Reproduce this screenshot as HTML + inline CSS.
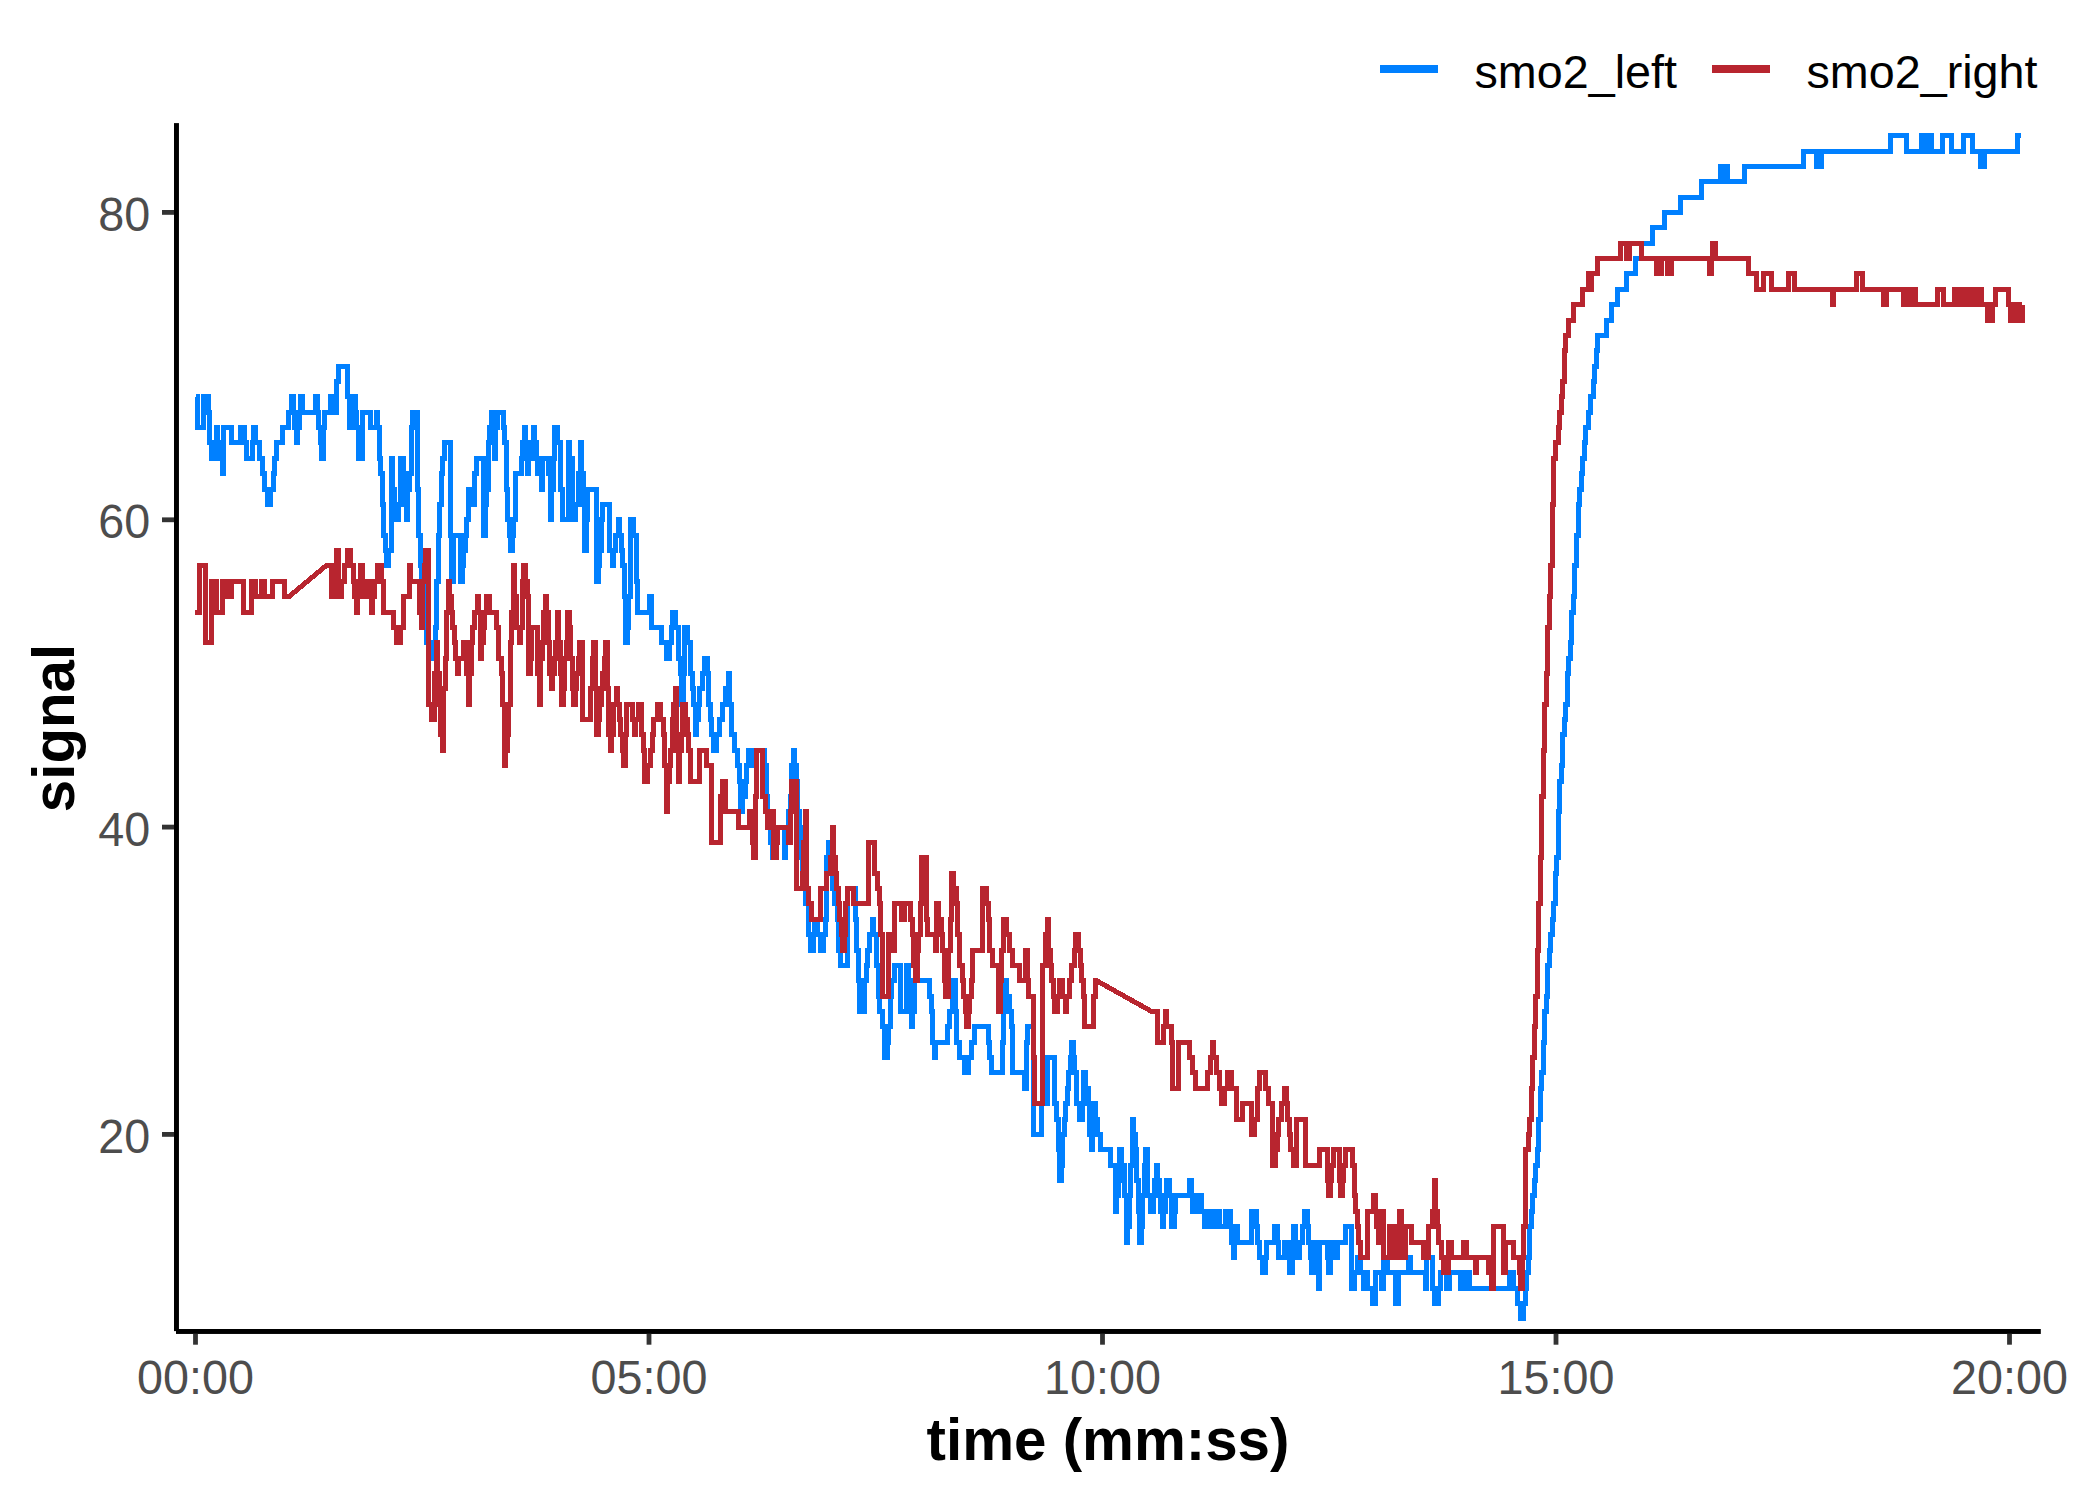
<!DOCTYPE html>
<html><head><meta charset="utf-8"><style>
html,body{margin:0;padding:0;background:#fff;width:2100px;height:1500px;overflow:hidden}
svg{display:block}
</style></head><body>
<svg width="2100" height="1500" viewBox="0 0 2100 1500">
<rect width="2100" height="1500" fill="#fff"/>
<path d="M196.3,396.8 L197.8,396.8 L197.8,427.6 L202.3,427.6 L203.9,427.6 L203.9,396.8 L206.9,396.8 L208.4,396.8 L208.4,412.2 L209.9,412.2 L209.9,442.9 L211.4,442.9 L211.4,458.3 L214.4,458.3 L216.0,458.3 L216.0,427.6 L217.5,427.6 L217.5,442.9 L219.0,442.9 L220.5,442.9 L220.5,458.3 L222.0,458.3 L222.0,473.7 L223.5,473.7 L223.5,427.6 L229.6,427.6 L231.1,427.6 L231.1,442.9 L238.6,442.9 L240.1,442.9 L240.1,427.6 L243.2,427.6 L244.7,427.6 L244.7,442.9 L246.2,442.9 L246.2,458.3 L250.7,458.3 L252.2,458.3 L252.2,442.9 L253.7,442.9 L253.7,427.6 L255.3,427.6 L255.3,442.9 L258.3,442.9 L259.8,442.9 L259.8,458.3 L261.3,458.3 L262.8,458.3 L262.8,473.7 L264.3,473.7 L264.3,489.0 L265.8,489.0 L267.3,489.0 L267.3,504.4 L268.9,504.4 L270.4,504.4 L270.4,489.0 L271.9,489.0 L273.4,489.0 L273.4,473.7 L274.9,473.7 L274.9,458.3 L276.4,458.3 L276.4,442.9 L281.0,442.9 L282.5,442.9 L282.5,427.6 L287.0,427.6 L288.5,427.6 L288.5,412.2 L290.0,412.2 L291.5,412.2 L291.5,396.8 L293.0,396.8 L293.0,412.2 L294.6,412.2 L294.6,427.6 L296.1,427.6 L296.1,442.9 L297.6,442.9 L297.6,427.6 L299.1,427.6 L299.1,412.2 L300.6,412.2 L300.6,396.8 L302.1,396.8 L302.1,412.2 L314.2,412.2 L315.7,412.2 L315.7,396.8 L317.2,396.8 L317.2,412.2 L318.7,412.2 L318.7,427.6 L320.3,427.6 L320.3,442.9 L321.8,442.9 L321.8,458.3 L323.3,458.3 L323.3,427.6 L324.8,427.6 L324.8,412.2 L329.3,412.2 L330.8,412.2 L330.8,396.8 L332.4,396.8 L333.9,396.8 L333.9,412.2 L335.4,412.2 L336.9,412.2 L336.9,381.5 L338.4,381.5 L338.4,366.1 L346.0,366.1 L347.5,366.1 L347.5,396.8 L349.0,396.8 L349.0,427.6 L352.0,427.6 L353.5,427.6 L353.5,396.8 L355.0,396.8 L355.0,412.2 L356.5,412.2 L356.5,427.6 L358.0,427.6 L358.0,458.3 L361.1,458.3 L362.6,458.3 L362.6,412.2 L368.6,412.2 L370.1,412.2 L370.1,427.6 L374.7,427.6 L376.2,427.6 L376.2,412.2 L377.7,412.2 L377.7,427.6 L379.2,427.6 L379.2,458.3 L380.7,458.3 L380.7,473.7 L382.2,473.7 L382.2,504.4 L383.7,504.4 L383.7,535.1 L385.3,535.1 L385.3,550.5 L386.8,550.5 L386.8,565.9 L388.3,565.9 L388.3,550.5 L389.8,550.5 L391.3,550.5 L391.3,458.3 L392.8,458.3 L392.8,489.0 L394.3,489.0 L394.3,504.4 L395.8,504.4 L395.8,519.8 L397.4,519.8 L398.9,519.8 L398.9,504.4 L400.4,504.4 L400.4,458.3 L401.9,458.3 L403.4,458.3 L403.4,473.7 L404.9,473.7 L404.9,504.4 L406.4,504.4 L406.4,519.8 L407.9,519.8 L407.9,489.0 L409.4,489.0 L409.4,473.7 L411.0,473.7 L411.0,427.6 L412.5,427.6 L412.5,412.2 L415.5,412.2 L417.0,412.2 L417.0,489.0 L418.5,489.0 L418.5,535.1 L420.0,535.1 L420.0,565.9 L421.5,565.9 L421.5,581.2 L423.1,581.2 L423.1,596.6 L424.6,596.6 L424.6,627.3 L426.1,627.3 L426.1,642.7 L429.1,642.7 L430.6,642.7 L430.6,658.1 L433.6,658.1 L435.1,658.1 L435.1,627.3 L436.7,627.3 L436.7,581.2 L438.2,581.2 L438.2,535.1 L439.7,535.1 L439.7,504.4 L441.2,504.4 L441.2,473.7 L442.7,473.7 L442.7,458.3 L444.2,458.3 L444.2,442.9 L448.7,442.9 L450.3,442.9 L450.3,535.1 L451.8,535.1 L451.8,581.2 L453.3,581.2 L453.3,535.1 L459.3,535.1 L460.8,535.1 L460.8,581.2 L462.4,581.2 L462.4,565.9 L463.9,565.9 L463.9,550.5 L465.4,550.5 L465.4,535.1 L466.9,535.1 L466.9,519.8 L468.4,519.8 L468.4,489.0 L469.9,489.0 L471.4,489.0 L471.4,504.4 L472.9,504.4 L474.4,504.4 L474.4,473.7 L476.0,473.7 L476.0,458.3 L482.0,458.3 L483.5,458.3 L483.5,535.1 L485.0,535.1 L485.0,504.4 L486.5,504.4 L486.5,489.0 L488.1,489.0 L488.1,442.9 L489.6,442.9 L489.6,427.6 L491.1,427.6 L491.1,412.2 L492.6,412.2 L492.6,442.9 L494.1,442.9 L494.1,458.3 L495.6,458.3 L495.6,427.6 L497.1,427.6 L497.1,412.2 L501.7,412.2 L503.2,412.2 L503.2,427.6 L504.7,427.6 L504.7,442.9 L506.2,442.9 L506.2,489.0 L507.7,489.0 L507.7,519.8 L509.2,519.8 L509.2,535.1 L510.7,535.1 L510.7,550.5 L512.2,550.5 L512.2,535.1 L513.8,535.1 L513.8,519.8 L515.3,519.8 L515.3,473.7 L519.8,473.7 L521.3,473.7 L521.3,458.3 L522.8,458.3 L522.8,442.9 L524.3,442.9 L524.3,427.6 L525.8,427.6 L525.8,442.9 L527.4,442.9 L527.4,473.7 L528.9,473.7 L528.9,458.3 L530.4,458.3 L531.9,458.3 L531.9,442.9 L533.4,442.9 L533.4,427.6 L534.9,427.6 L534.9,442.9 L536.4,442.9 L536.4,458.3 L537.9,458.3 L537.9,473.7 L539.4,473.7 L541.0,473.7 L541.0,489.0 L542.5,489.0 L542.5,458.3 L547.0,458.3 L548.5,458.3 L548.5,473.7 L550.0,473.7 L550.0,519.8 L551.5,519.8 L551.5,489.0 L553.1,489.0 L553.1,458.3 L554.6,458.3 L554.6,427.6 L556.1,427.6 L557.6,427.6 L557.6,442.9 L559.1,442.9 L560.6,442.9 L560.6,489.0 L562.1,489.0 L562.1,519.8 L566.7,519.8 L568.2,519.8 L568.2,442.9 L569.7,442.9 L569.7,458.3 L571.2,458.3 L572.7,458.3 L572.7,519.8 L574.2,519.8 L575.7,519.8 L575.7,504.4 L577.2,504.4 L578.8,504.4 L578.8,473.7 L580.3,473.7 L580.3,442.9 L581.8,442.9 L581.8,473.7 L583.3,473.7 L583.3,504.4 L584.8,504.4 L584.8,550.5 L586.3,550.5 L586.3,519.8 L587.8,519.8 L587.8,489.0 L595.4,489.0 L596.9,489.0 L596.9,581.2 L598.4,581.2 L598.4,565.9 L599.9,565.9 L599.9,550.5 L601.4,550.5 L601.4,519.8 L602.9,519.8 L602.9,504.4 L607.5,504.4 L609.0,504.4 L609.0,550.5 L610.5,550.5 L612.0,550.5 L612.0,565.9 L613.5,565.9 L613.5,550.5 L615.0,550.5 L615.0,535.1 L616.5,535.1 L618.1,535.1 L618.1,519.8 L619.6,519.8 L619.6,535.1 L621.1,535.1 L621.1,550.5 L622.6,550.5 L622.6,565.9 L624.1,565.9 L624.1,596.6 L625.6,596.6 L625.6,642.7 L627.1,642.7 L627.1,627.3 L628.6,627.3 L628.6,596.6 L630.1,596.6 L630.1,519.8 L631.7,519.8 L633.2,519.8 L633.2,535.1 L634.7,535.1 L636.2,535.1 L636.2,581.2 L637.7,581.2 L637.7,612.0 L648.3,612.0 L649.8,612.0 L649.8,596.6 L651.3,596.6 L651.3,627.3 L660.4,627.3 L661.9,627.3 L661.9,642.7 L664.9,642.7 L666.4,642.7 L666.4,658.1 L667.9,658.1 L669.5,658.1 L669.5,642.7 L671.0,642.7 L671.0,627.3 L672.5,627.3 L672.5,612.0 L674.0,612.0 L675.5,612.0 L675.5,627.3 L677.0,627.3 L678.5,627.3 L678.5,658.1 L680.0,658.1 L680.0,673.4 L681.5,673.4 L681.5,704.2 L683.1,704.2 L683.1,673.4 L684.6,673.4 L684.6,627.3 L686.1,627.3 L687.6,627.3 L687.6,642.7 L689.1,642.7 L690.6,642.7 L690.6,673.4 L692.1,673.4 L692.1,688.8 L693.6,688.8 L693.6,704.2 L695.2,704.2 L695.2,734.9 L696.7,734.9 L696.7,719.5 L698.2,719.5 L698.2,704.2 L699.7,704.2 L699.7,688.8 L701.2,688.8 L702.7,688.8 L702.7,673.4 L704.2,673.4 L704.2,658.1 L705.7,658.1 L707.2,658.1 L707.2,673.4 L708.8,673.4 L708.8,704.2 L710.3,704.2 L710.3,719.5 L711.8,719.5 L711.8,734.9 L713.3,734.9 L713.3,750.3 L714.8,750.3 L716.3,750.3 L716.3,734.9 L717.8,734.9 L719.3,734.9 L719.3,719.5 L720.8,719.5 L722.4,719.5 L722.4,704.2 L723.9,704.2 L725.4,704.2 L725.4,688.8 L726.9,688.8 L728.4,688.8 L728.4,673.4 L729.9,673.4 L729.9,704.2 L731.4,704.2 L731.4,734.9 L732.9,734.9 L734.5,734.9 L734.5,750.3 L736.0,750.3 L737.5,750.3 L737.5,765.6 L739.0,765.6 L739.0,781.0 L740.5,781.0 L740.5,811.7 L742.0,811.7 L742.0,796.4 L743.5,796.4 L745.0,796.4 L745.0,781.0 L746.5,781.0 L746.5,765.6 L748.1,765.6 L748.1,750.3 L749.6,750.3 L751.1,750.3 L751.1,765.6 L754.1,765.6 L755.6,765.6 L755.6,750.3 L763.2,750.3 L764.7,750.3 L764.7,765.6 L766.2,765.6 L766.2,796.4 L767.7,796.4 L767.7,811.7 L769.2,811.7 L769.2,827.1 L770.7,827.1 L770.7,842.5 L772.2,842.5 L772.2,857.8 L773.8,857.8 L773.8,842.5 L775.3,842.5 L776.8,842.5 L776.8,827.1 L782.8,827.1 L784.3,827.1 L784.3,857.8 L785.9,857.8 L785.9,842.5 L787.4,842.5 L787.4,827.1 L788.9,827.1 L788.9,811.7 L790.4,811.7 L790.4,796.4 L791.9,796.4 L791.9,765.6 L793.4,765.6 L793.4,750.3 L794.9,750.3 L794.9,765.6 L796.4,765.6 L796.4,781.0 L797.9,781.0 L797.9,811.7 L799.5,811.7 L799.5,827.1 L801.0,827.1 L801.0,857.8 L802.5,857.8 L802.5,873.2 L804.0,873.2 L804.0,888.6 L805.5,888.6 L805.5,903.9 L807.0,903.9 L808.5,903.9 L808.5,934.7 L810.0,934.7 L810.0,950.0 L811.5,950.0 L813.1,950.0 L813.1,934.7 L814.6,934.7 L814.6,919.3 L816.1,919.3 L817.6,919.3 L817.6,934.7 L819.1,934.7 L820.6,934.7 L820.6,950.0 L822.1,950.0 L823.6,950.0 L823.6,934.7 L825.2,934.7 L825.2,919.3 L826.7,919.3 L826.7,857.8 L828.2,857.8 L828.2,842.5 L829.7,842.5 L829.7,857.8 L831.2,857.8 L831.2,873.2 L832.7,873.2 L832.7,888.6 L834.2,888.6 L834.2,903.9 L835.7,903.9 L837.2,903.9 L837.2,919.3 L838.8,919.3 L838.8,950.0 L840.3,950.0 L840.3,965.4 L846.3,965.4 L847.8,965.4 L847.8,888.6 L853.9,888.6 L855.4,888.6 L855.4,919.3 L856.9,919.3 L856.9,950.0 L858.4,950.0 L858.4,980.8 L859.9,980.8 L859.9,1011.5 L862.9,1011.5 L864.5,1011.5 L864.5,980.8 L866.0,980.8 L866.0,965.4 L867.5,965.4 L867.5,950.0 L869.0,950.0 L869.0,934.7 L870.5,934.7 L872.0,934.7 L872.0,919.3 L873.5,919.3 L873.5,934.7 L875.0,934.7 L876.5,934.7 L876.5,965.4 L878.1,965.4 L878.1,996.1 L879.6,996.1 L879.6,1011.5 L881.1,1011.5 L882.6,1011.5 L882.6,1026.8 L884.1,1026.8 L884.1,1057.6 L885.6,1057.6 L887.1,1057.6 L887.1,1042.2 L888.6,1042.2 L888.6,1026.8 L890.2,1026.8 L890.2,996.1 L891.7,996.1 L891.7,980.8 L893.2,980.8 L894.7,980.8 L894.7,965.4 L899.2,965.4 L900.7,965.4 L900.7,1011.5 L905.3,1011.5 L906.8,1011.5 L906.8,965.4 L908.3,965.4 L908.3,980.8 L909.8,980.8 L909.8,996.1 L911.3,996.1 L911.3,1026.8 L912.8,1026.8 L912.8,1011.5 L914.3,1011.5 L914.3,980.8 L927.9,980.8 L929.5,980.8 L929.5,996.1 L931.0,996.1 L931.0,1011.5 L932.5,1011.5 L932.5,1042.2 L934.0,1042.2 L934.0,1057.6 L935.5,1057.6 L935.5,1042.2 L946.1,1042.2 L947.6,1042.2 L947.6,1026.8 L949.1,1026.8 L949.1,1011.5 L950.6,1011.5 L952.1,1011.5 L952.1,996.1 L953.6,996.1 L953.6,980.8 L955.2,980.8 L955.2,1011.5 L956.7,1011.5 L956.7,1042.2 L958.2,1042.2 L959.7,1042.2 L959.7,1057.6 L962.7,1057.6 L964.2,1057.6 L964.2,1072.9 L967.2,1072.9 L968.8,1072.9 L968.8,1057.6 L970.3,1057.6 L971.8,1057.6 L971.8,1042.2 L973.3,1042.2 L974.8,1042.2 L974.8,1026.8 L986.9,1026.8 L988.4,1026.8 L988.4,1042.2 L989.9,1042.2 L989.9,1057.6 L991.4,1057.6 L991.4,1072.9 L1000.5,1072.9 L1002.0,1072.9 L1002.0,1042.2 L1003.5,1042.2 L1003.5,1011.5 L1005.0,1011.5 L1005.0,980.8 L1006.6,980.8 L1006.6,996.1 L1008.1,996.1 L1009.6,996.1 L1009.6,1011.5 L1011.1,1011.5 L1011.1,1026.8 L1012.6,1026.8 L1012.6,1072.9 L1023.2,1072.9 L1024.7,1072.9 L1024.7,1088.3 L1026.2,1088.3 L1026.2,1042.2 L1027.7,1042.2 L1027.7,1026.8 L1032.3,1026.8 L1033.8,1026.8 L1033.8,1134.4 L1039.8,1134.4 L1041.3,1134.4 L1041.3,1103.7 L1045.9,1103.7 L1047.4,1103.7 L1047.4,1057.6 L1053.4,1057.6 L1054.9,1057.6 L1054.9,1103.7 L1056.4,1103.7 L1056.4,1119.0 L1058.0,1119.0 L1058.0,1149.8 L1059.5,1149.8 L1059.5,1180.5 L1061.0,1180.5 L1061.0,1165.1 L1062.5,1165.1 L1062.5,1134.4 L1064.0,1134.4 L1064.0,1119.0 L1065.5,1119.0 L1065.5,1103.7 L1067.0,1103.7 L1067.0,1088.3 L1068.5,1088.3 L1068.5,1072.9 L1070.0,1072.9 L1070.0,1057.6 L1071.6,1057.6 L1071.6,1042.2 L1073.1,1042.2 L1073.1,1057.6 L1074.6,1057.6 L1074.6,1072.9 L1076.1,1072.9 L1076.1,1103.7 L1077.6,1103.7 L1079.1,1103.7 L1079.1,1119.0 L1080.6,1119.0 L1082.1,1119.0 L1082.1,1103.7 L1083.6,1103.7 L1083.6,1072.9 L1085.2,1072.9 L1085.2,1088.3 L1086.7,1088.3 L1088.2,1088.3 L1088.2,1103.7 L1089.7,1103.7 L1089.7,1134.4 L1091.2,1134.4 L1091.2,1149.8 L1092.7,1149.8 L1092.7,1103.7 L1094.2,1103.7 L1095.7,1103.7 L1095.7,1119.0 L1097.3,1119.0 L1097.3,1134.4 L1098.8,1134.4 L1100.3,1134.4 L1100.3,1149.8 L1109.3,1149.8 L1110.9,1149.8 L1110.9,1165.1 L1113.9,1165.1 L1115.4,1165.1 L1115.4,1211.2 L1116.9,1211.2 L1116.9,1195.9 L1118.4,1195.9 L1118.4,1180.5 L1119.9,1180.5 L1119.9,1149.8 L1121.4,1149.8 L1121.4,1165.1 L1123.0,1165.1 L1124.5,1165.1 L1124.5,1195.9 L1126.0,1195.9 L1126.0,1242.0 L1127.5,1242.0 L1127.5,1226.6 L1129.0,1226.6 L1129.0,1195.9 L1130.5,1195.9 L1130.5,1165.1 L1132.0,1165.1 L1132.0,1119.0 L1133.5,1119.0 L1133.5,1134.4 L1135.0,1134.4 L1135.0,1149.8 L1136.6,1149.8 L1136.6,1180.5 L1138.1,1180.5 L1138.1,1211.2 L1139.6,1211.2 L1139.6,1242.0 L1141.1,1242.0 L1141.1,1226.6 L1142.6,1226.6 L1142.6,1195.9 L1144.1,1195.9 L1144.1,1165.1 L1145.6,1165.1 L1145.6,1149.8 L1147.1,1149.8 L1147.1,1195.9 L1148.7,1195.9 L1150.2,1195.9 L1150.2,1211.2 L1151.7,1211.2 L1153.2,1211.2 L1153.2,1195.9 L1154.7,1195.9 L1154.7,1180.5 L1156.2,1180.5 L1156.2,1165.1 L1157.7,1165.1 L1157.7,1180.5 L1159.2,1180.5 L1159.2,1195.9 L1160.7,1195.9 L1160.7,1211.2 L1162.3,1211.2 L1162.3,1226.6 L1163.8,1226.6 L1163.8,1211.2 L1165.3,1211.2 L1165.3,1195.9 L1166.8,1195.9 L1166.8,1180.5 L1168.3,1180.5 L1169.8,1180.5 L1169.8,1195.9 L1171.3,1195.9 L1171.3,1226.6 L1172.8,1226.6 L1174.3,1226.6 L1174.3,1211.2 L1175.9,1211.2 L1175.9,1195.9 L1188.0,1195.9 L1189.5,1195.9 L1189.5,1180.5 L1191.0,1180.5 L1191.0,1195.9 L1192.5,1195.9 L1192.5,1211.2 L1195.5,1211.2 L1197.0,1211.2 L1197.0,1195.9 L1200.0,1195.9 L1201.6,1195.9 L1201.6,1211.2 L1203.1,1211.2 L1204.6,1211.2 L1204.6,1226.6 L1206.1,1226.6 L1207.6,1226.6 L1207.6,1211.2 L1210.6,1211.2 L1212.1,1211.2 L1212.1,1226.6 L1213.7,1226.6 L1215.2,1226.6 L1215.2,1211.2 L1218.2,1211.2 L1219.7,1211.2 L1219.7,1226.6 L1224.2,1226.6 L1225.7,1226.6 L1225.7,1211.2 L1228.8,1211.2 L1230.3,1211.2 L1230.3,1226.6 L1231.8,1226.6 L1231.8,1242.0 L1233.3,1242.0 L1233.3,1257.3 L1234.8,1257.3 L1234.8,1242.0 L1236.3,1242.0 L1236.3,1226.6 L1237.8,1226.6 L1237.8,1242.0 L1249.9,1242.0 L1251.4,1242.0 L1251.4,1211.2 L1254.5,1211.2 L1256.0,1211.2 L1256.0,1226.6 L1257.5,1226.6 L1257.5,1242.0 L1259.0,1242.0 L1259.0,1257.3 L1260.5,1257.3 L1262.0,1257.3 L1262.0,1272.7 L1263.5,1272.7 L1265.0,1272.7 L1265.0,1257.3 L1266.6,1257.3 L1266.6,1242.0 L1272.6,1242.0 L1274.1,1242.0 L1274.1,1226.6 L1275.6,1226.6 L1277.1,1226.6 L1277.1,1242.0 L1278.7,1242.0 L1278.7,1257.3 L1283.2,1257.3 L1284.7,1257.3 L1284.7,1242.0 L1286.2,1242.0 L1287.7,1242.0 L1287.7,1257.3 L1289.2,1257.3 L1289.2,1272.7 L1290.7,1272.7 L1292.3,1272.7 L1292.3,1242.0 L1293.8,1242.0 L1293.8,1226.6 L1295.3,1226.6 L1295.3,1242.0 L1296.8,1242.0 L1296.8,1257.3 L1298.3,1257.3 L1299.8,1257.3 L1299.8,1242.0 L1301.3,1242.0 L1302.8,1242.0 L1302.8,1226.6 L1304.4,1226.6 L1304.4,1211.2 L1305.9,1211.2 L1307.4,1211.2 L1307.4,1226.6 L1308.9,1226.6 L1308.9,1242.0 L1310.4,1242.0 L1310.4,1257.3 L1311.9,1257.3 L1311.9,1272.7 L1313.4,1272.7 L1313.4,1257.3 L1314.9,1257.3 L1314.9,1242.0 L1316.4,1242.0 L1316.4,1272.7 L1318.0,1272.7 L1318.0,1288.1 L1319.5,1288.1 L1319.5,1242.0 L1325.5,1242.0 L1327.0,1242.0 L1327.0,1257.3 L1328.5,1257.3 L1328.5,1272.7 L1330.0,1272.7 L1330.0,1242.0 L1331.6,1242.0 L1333.1,1242.0 L1333.1,1257.3 L1336.1,1257.3 L1337.6,1257.3 L1337.6,1242.0 L1343.7,1242.0 L1345.2,1242.0 L1345.2,1226.6 L1349.7,1226.6 L1351.2,1226.6 L1351.2,1288.1 L1352.7,1288.1 L1354.2,1288.1 L1354.2,1272.7 L1355.7,1272.7 L1357.3,1272.7 L1357.3,1257.3 L1358.8,1257.3 L1360.3,1257.3 L1360.3,1272.7 L1361.8,1272.7 L1363.3,1272.7 L1363.3,1288.1 L1364.8,1288.1 L1364.8,1272.7 L1366.3,1272.7 L1367.8,1272.7 L1367.8,1288.1 L1370.9,1288.1 L1372.4,1288.1 L1372.4,1303.4 L1373.9,1303.4 L1375.4,1303.4 L1375.4,1272.7 L1379.9,1272.7 L1381.4,1272.7 L1381.4,1288.1 L1383.0,1288.1 L1383.0,1257.3 L1386.0,1257.3 L1387.5,1257.3 L1387.5,1272.7 L1393.5,1272.7 L1395.1,1272.7 L1395.1,1303.4 L1396.6,1303.4 L1398.1,1303.4 L1398.1,1272.7 L1407.1,1272.7 L1408.7,1272.7 L1408.7,1257.3 L1410.2,1257.3 L1410.2,1272.7 L1423.8,1272.7 L1425.3,1272.7 L1425.3,1288.1 L1426.8,1288.1 L1426.8,1257.3 L1431.3,1257.3 L1432.8,1257.3 L1432.8,1288.1 L1434.4,1288.1 L1434.4,1303.4 L1437.4,1303.4 L1438.9,1303.4 L1438.9,1288.1 L1440.4,1288.1 L1440.4,1272.7 L1444.9,1272.7 L1446.4,1272.7 L1446.4,1288.1 L1448.0,1288.1 L1449.5,1288.1 L1449.5,1272.7 L1458.5,1272.7 L1460.1,1272.7 L1460.1,1288.1 L1463.1,1288.1 L1464.6,1288.1 L1464.6,1272.7 L1467.6,1272.7 L1469.1,1272.7 L1469.1,1288.1 L1508.4,1288.1 L1509.9,1288.1 L1509.9,1272.7 L1511.5,1272.7 L1513.0,1272.7 L1513.0,1288.1 L1516.0,1288.1 L1517.5,1288.1 L1517.5,1303.4 L1519.0,1303.4 L1520.5,1303.4 L1520.5,1318.8 L1522.0,1318.8 L1523.5,1318.8 L1523.5,1303.4 L1525.1,1303.4 L1525.1,1288.1 L1526.6,1288.1 L1526.6,1272.7 L1528.1,1272.7 L1528.1,1257.3 L1529.6,1257.3 L1529.6,1226.6 L1531.1,1226.6 L1531.1,1211.2 L1532.6,1211.2 L1532.6,1195.9 L1534.1,1195.9 L1534.1,1180.5 L1535.6,1180.5 L1535.6,1165.1 L1537.1,1165.1 L1537.1,1149.8 L1538.7,1149.8 L1538.7,1119.0 L1540.2,1119.0 L1540.2,1088.3 L1541.7,1088.3 L1541.7,1072.9 L1543.2,1072.9 L1543.2,1042.2 L1544.7,1042.2 L1544.7,1011.5 L1546.2,1011.5 L1546.2,996.1 L1547.7,996.1 L1547.7,965.4 L1549.2,965.4 L1549.2,950.0 L1550.8,950.0 L1550.8,934.7 L1552.3,934.7 L1552.3,919.3 L1553.8,919.3 L1553.8,903.9 L1555.3,903.9 L1555.3,873.2 L1556.8,873.2 L1556.8,857.8 L1558.3,857.8 L1558.3,811.7 L1559.8,811.7 L1559.8,781.0 L1561.3,781.0 L1561.3,765.6 L1562.8,765.6 L1562.8,734.9 L1564.4,734.9 L1564.4,719.5 L1565.9,719.5 L1565.9,704.2 L1567.4,704.2 L1567.4,673.4 L1568.9,673.4 L1568.9,658.1 L1570.4,658.1 L1570.4,642.7 L1571.9,642.7 L1571.9,612.0 L1573.4,612.0 L1573.4,596.6 L1574.9,596.6 L1574.9,565.9 L1576.5,565.9 L1576.5,535.1 L1578.0,535.1 L1578.0,504.4 L1579.5,504.4 L1579.5,489.0 L1581.0,489.0 L1581.0,473.7 L1582.5,473.7 L1582.5,458.3 L1584.0,458.3 L1584.0,442.9 L1585.5,442.9 L1585.5,427.6 L1587.0,427.6 L1588.5,427.6 L1588.5,412.2 L1590.1,412.2 L1590.1,396.8 L1591.6,396.8 L1593.1,396.8 L1593.1,381.5 L1594.6,381.5 L1594.6,366.1 L1596.1,366.1 L1596.1,350.7 L1597.6,350.7 L1597.6,335.4 L1605.2,335.4 L1606.7,335.4 L1606.7,320.0 L1609.7,320.0 L1611.2,320.0 L1611.2,304.6 L1615.8,304.6 L1617.3,304.6 L1617.3,289.3 L1624.8,289.3 L1626.3,289.3 L1626.3,273.9 L1633.9,273.9 L1635.4,273.9 L1635.4,258.5 L1639.9,258.5 L1641.5,258.5 L1641.5,243.2 L1650.5,243.2 L1652.0,243.2 L1652.0,227.8 L1662.6,227.8 L1664.1,227.8 L1664.1,212.4 L1679.2,212.4 L1680.8,212.4 L1680.8,197.1 L1700.4,197.1 L1701.9,197.1 L1701.9,181.7 L1718.5,181.7 L1720.1,181.7 L1720.1,166.4 L1721.6,166.4 L1723.1,166.4 L1723.1,181.7 L1724.6,181.7 L1724.6,166.4 L1726.1,166.4 L1727.6,166.4 L1727.6,181.7 L1742.7,181.7 L1744.2,181.7 L1744.2,166.4 L1801.7,166.4 L1803.2,166.4 L1803.2,151.0 L1815.3,151.0 L1816.8,151.0 L1816.8,166.4 L1819.8,166.4 L1821.3,166.4 L1821.3,151.0 L1889.4,151.0 L1890.9,151.0 L1890.9,135.6 L1904.5,135.6 L1906.0,135.6 L1906.0,151.0 L1919.6,151.0 L1921.1,151.0 L1921.1,135.6 L1922.6,135.6 L1922.6,151.0 L1924.1,151.0 L1924.1,135.6 L1925.6,135.6 L1927.2,135.6 L1927.2,151.0 L1928.7,151.0 L1928.7,135.6 L1930.2,135.6 L1931.7,135.6 L1931.7,151.0 L1940.8,151.0 L1942.3,151.0 L1942.3,135.6 L1949.8,135.6 L1951.3,135.6 L1951.3,151.0 L1961.9,151.0 L1963.4,151.0 L1963.4,135.6 L1971.0,135.6 L1972.5,135.6 L1972.5,151.0 L1978.6,151.0 L1980.1,151.0 L1980.1,166.4 L1983.1,166.4 L1984.6,166.4 L1984.6,151.0 L2016.3,151.0 L2017.9,151.0 L2017.9,135.6 L2020.9,135.6" fill="none" stroke="#0080FF" stroke-width="5" stroke-linejoin="miter" stroke-linecap="butt" shape-rendering="crispEdges"/>
<path d="M195.3,612.0 L198.3,612.0 L199.8,612.0 L199.8,565.9 L204.4,565.9 L205.9,565.9 L205.9,642.7 L210.4,642.7 L211.9,642.7 L211.9,581.2 L215.0,581.2 L216.5,581.2 L216.5,612.0 L221.0,612.0 L222.5,612.0 L222.5,581.2 L225.5,581.2 L227.0,581.2 L227.0,596.6 L230.1,596.6 L231.6,596.6 L231.6,581.2 L242.2,581.2 L243.7,581.2 L243.7,612.0 L249.7,612.0 L251.2,612.0 L251.2,581.2 L254.3,581.2 L255.8,581.2 L255.8,596.6 L260.3,596.6 L261.8,596.6 L261.8,581.2 L263.3,581.2 L264.8,581.2 L264.8,596.6 L270.9,596.6 L272.4,596.6 L272.4,581.2 L283.0,581.2 L284.5,581.2 L284.5,596.6 L289.0,596.6 L325.9,565.9 L330.4,565.9 L331.9,565.9 L331.9,596.6 L333.5,596.6 L333.5,581.2 L335.0,581.2 L335.0,565.9 L336.5,565.9 L336.5,550.5 L338.0,550.5 L338.0,596.6 L339.5,596.6 L341.0,596.6 L341.0,581.2 L342.5,581.2 L344.0,581.2 L344.0,565.9 L345.6,565.9 L347.1,565.9 L347.1,550.5 L348.6,550.5 L350.1,550.5 L350.1,565.9 L351.6,565.9 L353.1,565.9 L353.1,581.2 L354.6,581.2 L354.6,596.6 L356.1,596.6 L356.1,612.0 L357.6,612.0 L357.6,596.6 L359.2,596.6 L359.2,581.2 L360.7,581.2 L360.7,565.9 L362.2,565.9 L362.2,581.2 L363.7,581.2 L363.7,596.6 L365.2,596.6 L366.7,596.6 L366.7,581.2 L368.2,581.2 L369.7,581.2 L369.7,596.6 L371.2,596.6 L371.2,612.0 L372.8,612.0 L372.8,596.6 L374.3,596.6 L374.3,581.2 L375.8,581.2 L377.3,581.2 L377.3,565.9 L380.3,565.9 L381.8,565.9 L381.8,581.2 L383.3,581.2 L383.3,612.0 L392.4,612.0 L393.9,612.0 L393.9,627.3 L395.4,627.3 L396.9,627.3 L396.9,642.7 L398.5,642.7 L400.0,642.7 L400.0,627.3 L401.5,627.3 L403.0,627.3 L403.0,596.6 L407.5,596.6 L409.0,596.6 L409.0,565.9 L410.6,565.9 L410.6,581.2 L418.1,581.2 L419.6,581.2 L419.6,612.0 L421.1,612.0 L421.1,627.3 L422.6,627.3 L422.6,581.2 L424.2,581.2 L424.2,565.9 L425.7,565.9 L425.7,550.5 L427.2,550.5 L428.7,550.5 L428.7,704.2 L430.2,704.2 L431.7,704.2 L431.7,719.5 L433.2,719.5 L434.7,719.5 L434.7,673.4 L436.3,673.4 L436.3,642.7 L437.8,642.7 L437.8,673.4 L439.3,673.4 L439.3,704.2 L440.8,704.2 L440.8,734.9 L442.3,734.9 L442.3,750.3 L443.8,750.3 L443.8,688.8 L445.3,688.8 L445.3,658.1 L446.8,658.1 L446.8,612.0 L448.3,612.0 L448.3,581.2 L449.9,581.2 L449.9,596.6 L451.4,596.6 L451.4,612.0 L452.9,612.0 L452.9,627.3 L454.4,627.3 L454.4,642.7 L455.9,642.7 L455.9,658.1 L457.4,658.1 L457.4,673.4 L458.9,673.4 L458.9,658.1 L461.9,658.1 L463.5,658.1 L463.5,642.7 L465.0,642.7 L466.5,642.7 L466.5,673.4 L468.0,673.4 L468.0,704.2 L469.5,704.2 L469.5,673.4 L471.0,673.4 L471.0,642.7 L472.5,642.7 L472.5,627.3 L474.0,627.3 L474.0,612.0 L475.6,612.0 L477.1,612.0 L477.1,596.6 L478.6,596.6 L478.6,612.0 L480.1,612.0 L480.1,658.1 L481.6,658.1 L481.6,642.7 L483.1,642.7 L483.1,627.3 L484.6,627.3 L484.6,612.0 L486.1,612.0 L486.1,596.6 L487.6,596.6 L489.2,596.6 L489.2,612.0 L495.2,612.0 L496.7,612.0 L496.7,627.3 L498.2,627.3 L498.2,658.1 L499.7,658.1 L501.3,658.1 L501.3,673.4 L502.8,673.4 L502.8,704.2 L504.3,704.2 L504.3,765.6 L505.8,765.6 L505.8,750.3 L507.3,750.3 L507.3,734.9 L508.8,734.9 L508.8,704.2 L510.3,704.2 L510.3,642.7 L511.8,642.7 L511.8,612.0 L513.3,612.0 L513.3,565.9 L514.9,565.9 L514.9,596.6 L516.4,596.6 L516.4,627.3 L517.9,627.3 L519.4,627.3 L519.4,642.7 L520.9,642.7 L520.9,627.3 L522.4,627.3 L522.4,581.2 L523.9,581.2 L523.9,565.9 L525.4,565.9 L525.4,581.2 L527.0,581.2 L527.0,596.6 L528.5,596.6 L528.5,673.4 L530.0,673.4 L530.0,658.1 L531.5,658.1 L531.5,627.3 L536.0,627.3 L537.5,627.3 L537.5,673.4 L539.0,673.4 L539.0,704.2 L540.6,704.2 L540.6,658.1 L542.1,658.1 L542.1,642.7 L543.6,642.7 L543.6,612.0 L545.1,612.0 L545.1,596.6 L546.6,596.6 L546.6,612.0 L548.1,612.0 L548.1,642.7 L549.6,642.7 L549.6,673.4 L551.1,673.4 L551.1,688.8 L552.6,688.8 L552.6,673.4 L554.2,673.4 L554.2,658.1 L555.7,658.1 L555.7,642.7 L557.2,642.7 L557.2,612.0 L558.7,612.0 L558.7,642.7 L560.2,642.7 L560.2,673.4 L561.7,673.4 L561.7,704.2 L563.2,704.2 L563.2,688.8 L564.7,688.8 L564.7,658.1 L566.3,658.1 L566.3,642.7 L567.8,642.7 L567.8,612.0 L569.3,612.0 L569.3,627.3 L570.8,627.3 L570.8,658.1 L572.3,658.1 L572.3,688.8 L573.8,688.8 L573.8,704.2 L575.3,704.2 L575.3,688.8 L576.8,688.8 L576.8,673.4 L578.3,673.4 L578.3,658.1 L579.9,658.1 L579.9,642.7 L581.4,642.7 L582.9,642.7 L582.9,719.5 L588.9,719.5 L590.4,719.5 L590.4,688.8 L592.0,688.8 L592.0,658.1 L593.5,658.1 L593.5,642.7 L595.0,642.7 L595.0,688.8 L596.5,688.8 L596.5,734.9 L598.0,734.9 L598.0,719.5 L599.5,719.5 L599.5,704.2 L601.0,704.2 L601.0,688.8 L602.5,688.8 L602.5,673.4 L604.0,673.4 L604.0,658.1 L605.6,658.1 L605.6,642.7 L607.1,642.7 L607.1,688.8 L608.6,688.8 L608.6,734.9 L610.1,734.9 L610.1,750.3 L611.6,750.3 L611.6,734.9 L613.1,734.9 L613.1,704.2 L614.6,704.2 L616.1,704.2 L616.1,688.8 L617.7,688.8 L617.7,704.2 L619.2,704.2 L619.2,719.5 L620.7,719.5 L620.7,734.9 L622.2,734.9 L622.2,750.3 L623.7,750.3 L623.7,765.6 L625.2,765.6 L625.2,734.9 L626.7,734.9 L626.7,704.2 L631.3,704.2 L632.8,704.2 L632.8,719.5 L634.3,719.5 L634.3,734.9 L635.8,734.9 L635.8,719.5 L637.3,719.5 L638.8,719.5 L638.8,704.2 L640.3,704.2 L641.8,704.2 L641.8,734.9 L643.3,734.9 L643.3,750.3 L644.9,750.3 L644.9,781.0 L646.4,781.0 L647.9,781.0 L647.9,765.6 L649.4,765.6 L650.9,765.6 L650.9,750.3 L652.4,750.3 L652.4,734.9 L653.9,734.9 L653.9,719.5 L655.4,719.5 L657.0,719.5 L657.0,704.2 L658.5,704.2 L660.0,704.2 L660.0,719.5 L661.5,719.5 L663.0,719.5 L663.0,734.9 L664.5,734.9 L664.5,765.6 L666.0,765.6 L666.0,811.7 L667.5,811.7 L667.5,781.0 L669.0,781.0 L669.0,765.6 L670.6,765.6 L670.6,750.3 L672.1,750.3 L672.1,719.5 L673.6,719.5 L673.6,704.2 L675.1,704.2 L675.1,688.8 L676.6,688.8 L676.6,750.3 L678.1,750.3 L678.1,781.0 L679.6,781.0 L679.6,750.3 L681.1,750.3 L681.1,734.9 L682.7,734.9 L682.7,704.2 L684.2,704.2 L685.7,704.2 L685.7,719.5 L687.2,719.5 L687.2,734.9 L688.7,734.9 L688.7,750.3 L690.2,750.3 L690.2,781.0 L697.8,781.0 L699.3,781.0 L699.3,750.3 L705.3,750.3 L706.8,750.3 L706.8,765.6 L709.9,765.6 L711.4,765.6 L711.4,842.5 L718.9,842.5 L720.4,842.5 L720.4,796.4 L722.0,796.4 L722.0,781.0 L723.5,781.0 L725.0,781.0 L725.0,811.7 L737.1,811.7 L738.6,811.7 L738.6,827.1 L747.7,827.1 L749.2,827.1 L749.2,811.7 L750.7,811.7 L750.7,827.1 L752.2,827.1 L752.2,842.5 L753.7,842.5 L753.7,857.8 L755.2,857.8 L755.2,796.4 L756.7,796.4 L756.7,750.3 L761.3,750.3 L762.8,750.3 L762.8,796.4 L764.3,796.4 L765.8,796.4 L765.8,811.7 L767.3,811.7 L767.3,827.1 L768.8,827.1 L770.3,827.1 L770.3,811.7 L771.8,811.7 L773.4,811.7 L773.4,857.8 L774.9,857.8 L776.4,857.8 L776.4,842.5 L777.9,842.5 L777.9,827.1 L787.0,827.1 L788.5,827.1 L788.5,842.5 L790.0,842.5 L790.0,811.7 L791.5,811.7 L791.5,781.0 L794.5,781.0 L796.0,781.0 L796.0,888.6 L800.6,888.6 L802.1,888.6 L802.1,873.2 L803.6,873.2 L803.6,842.5 L805.1,842.5 L805.1,811.7 L806.6,811.7 L806.6,888.6 L808.1,888.6 L808.1,903.9 L809.6,903.9 L811.1,903.9 L811.1,919.3 L818.7,919.3 L820.2,919.3 L820.2,888.6 L824.8,888.6 L826.3,888.6 L826.3,873.2 L829.3,873.2 L830.8,873.2 L830.8,857.8 L832.3,857.8 L832.3,827.1 L833.8,827.1 L833.8,857.8 L835.3,857.8 L835.3,873.2 L836.8,873.2 L836.8,888.6 L838.4,888.6 L838.4,903.9 L839.9,903.9 L839.9,919.3 L841.4,919.3 L841.4,934.7 L842.9,934.7 L842.9,950.0 L844.4,950.0 L844.4,934.7 L845.9,934.7 L845.9,903.9 L847.4,903.9 L847.4,888.6 L852.0,888.6 L853.5,888.6 L853.5,903.9 L867.1,903.9 L868.6,903.9 L868.6,842.5 L873.1,842.5 L874.6,842.5 L874.6,873.2 L876.1,873.2 L877.7,873.2 L877.7,888.6 L879.2,888.6 L879.2,903.9 L880.7,903.9 L880.7,934.7 L882.2,934.7 L882.2,996.1 L886.7,996.1 L888.2,996.1 L888.2,934.7 L889.8,934.7 L889.8,950.0 L892.8,950.0 L894.3,950.0 L894.3,903.9 L900.3,903.9 L901.8,903.9 L901.8,919.3 L903.4,919.3 L904.9,919.3 L904.9,903.9 L909.4,903.9 L910.9,903.9 L910.9,919.3 L912.4,919.3 L912.4,934.7 L913.9,934.7 L913.9,965.4 L915.5,965.4 L915.5,980.8 L917.0,980.8 L917.0,950.0 L918.5,950.0 L918.5,934.7 L920.0,934.7 L920.0,903.9 L921.5,903.9 L921.5,857.8 L924.5,857.8 L926.0,857.8 L926.0,919.3 L927.5,919.3 L927.5,934.7 L933.6,934.7 L935.1,934.7 L935.1,950.0 L936.6,950.0 L936.6,903.9 L938.1,903.9 L938.1,919.3 L939.6,919.3 L941.1,919.3 L941.1,934.7 L942.7,934.7 L942.7,950.0 L944.2,950.0 L944.2,980.8 L945.7,980.8 L945.7,996.1 L947.2,996.1 L948.7,996.1 L948.7,950.0 L950.2,950.0 L950.2,919.3 L951.7,919.3 L951.7,873.2 L953.2,873.2 L953.2,888.6 L954.8,888.6 L956.3,888.6 L956.3,903.9 L957.8,903.9 L957.8,934.7 L959.3,934.7 L959.3,965.4 L960.8,965.4 L962.3,965.4 L962.3,980.8 L963.8,980.8 L963.8,996.1 L965.3,996.1 L965.3,1011.5 L966.8,1011.5 L966.8,1026.8 L968.4,1026.8 L968.4,1011.5 L969.9,1011.5 L969.9,996.1 L971.4,996.1 L971.4,980.8 L972.9,980.8 L972.9,950.0 L980.5,950.0 L982.0,950.0 L982.0,888.6 L985.0,888.6 L986.5,888.6 L986.5,903.9 L988.0,903.9 L988.0,919.3 L989.5,919.3 L989.5,950.0 L991.0,950.0 L992.5,950.0 L992.5,965.4 L997.1,965.4 L998.6,965.4 L998.6,1011.5 L1000.1,1011.5 L1000.1,980.8 L1001.6,980.8 L1001.6,950.0 L1003.1,950.0 L1003.1,919.3 L1004.6,919.3 L1006.1,919.3 L1006.1,934.7 L1007.7,934.7 L1009.2,934.7 L1009.2,950.0 L1010.7,950.0 L1012.2,950.0 L1012.2,965.4 L1018.2,965.4 L1019.8,965.4 L1019.8,980.8 L1024.3,980.8 L1025.8,980.8 L1025.8,950.0 L1027.3,950.0 L1027.3,980.8 L1028.8,980.8 L1028.8,996.1 L1031.8,996.1 L1033.4,996.1 L1033.4,1057.6 L1034.9,1057.6 L1034.9,1103.7 L1040.9,1103.7 L1042.4,1103.7 L1042.4,965.4 L1043.9,965.4 L1045.5,965.4 L1045.5,934.7 L1047.0,934.7 L1047.0,919.3 L1048.5,919.3 L1048.5,950.0 L1050.0,950.0 L1050.0,965.4 L1051.5,965.4 L1051.5,980.8 L1053.0,980.8 L1053.0,996.1 L1054.5,996.1 L1054.5,1011.5 L1056.0,1011.5 L1057.5,1011.5 L1057.5,996.1 L1059.1,996.1 L1059.1,980.8 L1060.6,980.8 L1062.1,980.8 L1062.1,996.1 L1063.6,996.1 L1065.1,996.1 L1065.1,1011.5 L1066.6,1011.5 L1066.6,996.1 L1068.1,996.1 L1069.6,996.1 L1069.6,980.8 L1071.2,980.8 L1071.2,965.4 L1072.7,965.4 L1074.2,965.4 L1074.2,950.0 L1075.7,950.0 L1075.7,934.7 L1077.2,934.7 L1078.7,934.7 L1078.7,950.0 L1080.2,950.0 L1080.2,965.4 L1081.7,965.4 L1081.7,980.8 L1083.2,980.8 L1083.2,996.1 L1084.8,996.1 L1084.8,1026.8 L1092.3,1026.8 L1093.8,1026.8 L1093.8,996.1 L1095.3,996.1 L1095.3,980.8 L1096.8,980.8 L1151.7,1011.5 L1156.2,1011.5 L1157.7,1011.5 L1157.7,1042.2 L1162.3,1042.2 L1163.8,1042.2 L1163.8,1026.8 L1165.3,1026.8 L1165.3,1011.5 L1166.8,1011.5 L1166.8,1026.8 L1169.8,1026.8 L1171.4,1026.8 L1171.4,1042.2 L1172.9,1042.2 L1172.9,1088.3 L1177.4,1088.3 L1178.9,1088.3 L1178.9,1042.2 L1188.0,1042.2 L1189.5,1042.2 L1189.5,1057.6 L1191.0,1057.6 L1192.5,1057.6 L1192.5,1072.9 L1194.0,1072.9 L1195.5,1072.9 L1195.5,1088.3 L1206.1,1088.3 L1207.6,1088.3 L1207.6,1072.9 L1209.1,1072.9 L1210.7,1072.9 L1210.7,1057.6 L1212.2,1057.6 L1212.2,1042.2 L1213.7,1042.2 L1213.7,1057.6 L1215.2,1057.6 L1216.7,1057.6 L1216.7,1072.9 L1218.2,1072.9 L1219.7,1072.9 L1219.7,1088.3 L1221.2,1088.3 L1221.2,1103.7 L1222.7,1103.7 L1224.3,1103.7 L1224.3,1088.3 L1225.8,1088.3 L1227.3,1088.3 L1227.3,1072.9 L1230.3,1072.9 L1231.8,1072.9 L1231.8,1088.3 L1234.8,1088.3 L1236.4,1088.3 L1236.4,1119.0 L1240.9,1119.0 L1242.4,1119.0 L1242.4,1103.7 L1250.0,1103.7 L1251.5,1103.7 L1251.5,1134.4 L1253.0,1134.4 L1254.5,1134.4 L1254.5,1119.0 L1256.0,1119.0 L1257.5,1119.0 L1257.5,1088.3 L1259.0,1088.3 L1259.0,1072.9 L1263.6,1072.9 L1265.1,1072.9 L1265.1,1088.3 L1266.6,1088.3 L1268.1,1088.3 L1268.1,1103.7 L1271.1,1103.7 L1272.6,1103.7 L1272.6,1165.1 L1274.1,1165.1 L1275.7,1165.1 L1275.7,1149.8 L1277.2,1149.8 L1277.2,1134.4 L1278.7,1134.4 L1278.7,1119.0 L1280.2,1119.0 L1281.7,1119.0 L1281.7,1103.7 L1283.2,1103.7 L1284.7,1103.7 L1284.7,1088.3 L1286.2,1088.3 L1286.2,1103.7 L1287.8,1103.7 L1287.8,1119.0 L1289.3,1119.0 L1289.3,1134.4 L1290.8,1134.4 L1290.8,1149.8 L1292.3,1149.8 L1293.8,1149.8 L1293.8,1165.1 L1295.3,1165.1 L1296.8,1165.1 L1296.8,1119.0 L1304.4,1119.0 L1305.9,1119.0 L1305.9,1165.1 L1318.0,1165.1 L1319.5,1165.1 L1319.5,1149.8 L1325.5,1149.8 L1327.1,1149.8 L1327.1,1180.5 L1328.6,1180.5 L1328.6,1195.9 L1330.1,1195.9 L1330.1,1180.5 L1331.6,1180.5 L1331.6,1165.1 L1333.1,1165.1 L1333.1,1149.8 L1337.6,1149.8 L1339.1,1149.8 L1339.1,1180.5 L1340.7,1180.5 L1340.7,1195.9 L1342.2,1195.9 L1342.2,1180.5 L1343.7,1180.5 L1343.7,1165.1 L1345.2,1165.1 L1345.2,1149.8 L1351.2,1149.8 L1352.8,1149.8 L1352.8,1165.1 L1354.3,1165.1 L1354.3,1195.9 L1355.8,1195.9 L1355.8,1211.2 L1357.3,1211.2 L1357.3,1226.6 L1358.8,1226.6 L1358.8,1242.0 L1360.3,1242.0 L1360.3,1257.3 L1366.4,1257.3 L1367.9,1257.3 L1367.9,1211.2 L1372.4,1211.2 L1373.9,1211.2 L1373.9,1195.9 L1375.4,1195.9 L1375.4,1211.2 L1376.9,1211.2 L1376.9,1226.6 L1378.5,1226.6 L1378.5,1242.0 L1380.0,1242.0 L1380.0,1226.6 L1381.5,1226.6 L1381.5,1211.2 L1383.0,1211.2 L1383.0,1257.3 L1387.5,1257.3 L1389.0,1257.3 L1389.0,1226.6 L1392.1,1226.6 L1393.6,1226.6 L1393.6,1257.3 L1395.1,1257.3 L1396.6,1257.3 L1396.6,1242.0 L1398.1,1242.0 L1398.1,1226.6 L1399.6,1226.6 L1399.6,1211.2 L1401.1,1211.2 L1401.1,1257.3 L1404.1,1257.3 L1405.7,1257.3 L1405.7,1226.6 L1410.2,1226.6 L1411.7,1226.6 L1411.7,1242.0 L1422.3,1242.0 L1423.8,1242.0 L1423.8,1257.3 L1426.8,1257.3 L1428.3,1257.3 L1428.3,1226.6 L1431.4,1226.6 L1432.9,1226.6 L1432.9,1211.2 L1434.4,1211.2 L1434.4,1180.5 L1435.9,1180.5 L1435.9,1211.2 L1437.4,1211.2 L1437.4,1226.6 L1438.9,1226.6 L1438.9,1242.0 L1440.4,1242.0 L1441.9,1242.0 L1441.9,1257.3 L1443.5,1257.3 L1443.5,1272.7 L1446.5,1272.7 L1448.0,1272.7 L1448.0,1242.0 L1449.5,1242.0 L1451.0,1242.0 L1451.0,1257.3 L1461.6,1257.3 L1463.1,1257.3 L1463.1,1242.0 L1464.6,1242.0 L1466.1,1242.0 L1466.1,1257.3 L1473.7,1257.3 L1475.2,1257.3 L1475.2,1272.7 L1476.7,1272.7 L1476.7,1257.3 L1487.3,1257.3 L1488.8,1257.3 L1488.8,1272.7 L1490.3,1272.7 L1491.8,1272.7 L1491.8,1288.1 L1493.3,1288.1 L1493.3,1226.6 L1502.4,1226.6 L1503.9,1226.6 L1503.9,1272.7 L1505.4,1272.7 L1505.4,1242.0 L1511.5,1242.0 L1513.0,1242.0 L1513.0,1257.3 L1517.5,1257.3 L1519.0,1257.3 L1519.0,1272.7 L1520.5,1272.7 L1520.5,1288.1 L1522.1,1288.1 L1522.1,1257.3 L1523.6,1257.3 L1523.6,1226.6 L1525.1,1226.6 L1525.1,1149.8 L1526.6,1149.8 L1528.1,1149.8 L1528.1,1134.4 L1529.6,1134.4 L1529.6,1119.0 L1531.1,1119.0 L1531.1,1088.3 L1532.6,1088.3 L1532.6,1057.6 L1534.2,1057.6 L1534.2,1026.8 L1535.7,1026.8 L1535.7,996.1 L1537.2,996.1 L1537.2,950.0 L1538.7,950.0 L1538.7,903.9 L1540.2,903.9 L1540.2,857.8 L1541.7,857.8 L1541.7,796.4 L1543.2,796.4 L1543.2,750.3 L1544.7,750.3 L1544.7,704.2 L1546.2,704.2 L1546.2,673.4 L1547.8,673.4 L1547.8,627.3 L1549.3,627.3 L1549.3,596.6 L1550.8,596.6 L1550.8,565.9 L1552.3,565.9 L1552.3,504.4 L1553.8,504.4 L1553.8,458.3 L1555.3,458.3 L1555.3,442.9 L1556.8,442.9 L1558.3,442.9 L1558.3,427.6 L1559.9,427.6 L1559.9,412.2 L1561.4,412.2 L1561.4,396.8 L1562.9,396.8 L1562.9,381.5 L1564.4,381.5 L1564.4,350.7 L1565.9,350.7 L1565.9,335.4 L1567.4,335.4 L1568.9,335.4 L1568.9,320.0 L1571.9,320.0 L1573.5,320.0 L1573.5,304.6 L1581.0,304.6 L1582.5,304.6 L1582.5,289.3 L1587.1,289.3 L1588.6,289.3 L1588.6,273.9 L1590.1,273.9 L1590.1,289.3 L1591.6,289.3 L1591.6,273.9 L1596.1,273.9 L1597.6,273.9 L1597.6,258.5 L1618.8,258.5 L1620.3,258.5 L1620.3,243.2 L1624.9,243.2 L1626.4,243.2 L1626.4,258.5 L1627.9,258.5 L1629.4,258.5 L1629.4,243.2 L1640.0,243.2 L1641.5,243.2 L1641.5,258.5 L1655.1,258.5 L1656.6,258.5 L1656.6,273.9 L1659.6,273.9 L1661.1,273.9 L1661.1,258.5 L1665.7,258.5 L1667.2,258.5 L1667.2,273.9 L1670.2,273.9 L1671.7,273.9 L1671.7,258.5 L1708.0,258.5 L1709.5,258.5 L1709.5,273.9 L1711.0,273.9 L1711.0,258.5 L1712.5,258.5 L1712.5,243.2 L1714.0,243.2 L1715.6,243.2 L1715.6,258.5 L1747.3,258.5 L1748.8,258.5 L1748.8,273.9 L1754.9,273.9 L1756.4,273.9 L1756.4,289.3 L1762.4,289.3 L1763.9,289.3 L1763.9,273.9 L1770.0,273.9 L1771.5,273.9 L1771.5,289.3 L1786.6,289.3 L1788.1,289.3 L1788.1,273.9 L1792.6,273.9 L1794.2,273.9 L1794.2,289.3 L1830.4,289.3 L1832.0,289.3 L1832.0,304.6 L1833.5,304.6 L1833.5,289.3 L1854.6,289.3 L1856.1,289.3 L1856.1,273.9 L1860.7,273.9 L1862.2,273.9 L1862.2,289.3 L1881.8,289.3 L1883.3,289.3 L1883.3,304.6 L1884.9,304.6 L1886.4,304.6 L1886.4,289.3 L1901.5,289.3 L1903.0,289.3 L1903.0,304.6 L1906.0,304.6 L1907.5,304.6 L1907.5,289.3 L1909.0,289.3 L1909.0,304.6 L1910.6,304.6 L1910.6,289.3 L1913.6,289.3 L1915.1,289.3 L1915.1,304.6 L1936.3,304.6 L1937.8,304.6 L1937.8,289.3 L1942.3,289.3 L1943.8,289.3 L1943.8,304.6 L1952.9,304.6 L1954.4,304.6 L1954.4,289.3 L1955.9,289.3 L1957.4,289.3 L1957.4,304.6 L1958.9,304.6 L1958.9,289.3 L1960.4,289.3 L1960.4,304.6 L1962.0,304.6 L1963.5,304.6 L1963.5,289.3 L1966.5,289.3 L1968.0,289.3 L1968.0,304.6 L1969.5,304.6 L1969.5,289.3 L1972.5,289.3 L1974.0,289.3 L1974.0,304.6 L1975.6,304.6 L1977.1,304.6 L1977.1,289.3 L1980.1,289.3 L1981.6,289.3 L1981.6,304.6 L1986.1,304.6 L1987.7,304.6 L1987.7,320.0 L1990.7,320.0 L1992.2,320.0 L1992.2,304.6 L1993.7,304.6 L1995.2,304.6 L1995.2,289.3 L2007.3,289.3 L2008.8,289.3 L2008.8,304.6 L2010.3,304.6 L2010.3,320.0 L2011.8,320.0 L2011.8,304.6 L2013.3,304.6 L2014.9,304.6 L2014.9,320.0 L2016.4,320.0 L2017.9,320.0 L2017.9,304.6 L2019.4,304.6 L2019.4,320.0 L2020.9,320.0 L2022.4,320.0 L2022.4,304.6" fill="none" stroke="#B8252F" stroke-width="5" stroke-linejoin="miter" stroke-linecap="butt" shape-rendering="crispEdges"/>
<rect x="174" y="123.1" width="4.95" height="1208" fill="#000"/>
<rect x="176" y="1329" width="1864.8" height="4.95" fill="#000"/>
<rect x="193.1" y="1333.8" width="4.8" height="10.9" fill="#333"/>
<rect x="646.6" y="1333.8" width="4.8" height="10.9" fill="#333"/>
<rect x="1100.1" y="1333.8" width="4.8" height="10.9" fill="#333"/>
<rect x="1553.6" y="1333.8" width="4.8" height="10.9" fill="#333"/>
<rect x="2007.1" y="1333.8" width="4.8" height="10.9" fill="#333"/>
<rect x="162" y="210.0" width="12" height="4.8" fill="#333"/>
<rect x="162" y="517.4" width="12" height="4.8" fill="#333"/>
<rect x="162" y="824.7" width="12" height="4.8" fill="#333"/>
<rect x="162" y="1132.0" width="12" height="4.8" fill="#333"/>
<text transform="translate(195.5,1393.8) scale(1,1.03)" text-anchor="middle" font-family='"Liberation Sans", sans-serif' font-size="46.7" fill="#4D4D4D">00:00</text>
<text transform="translate(649.0,1393.8) scale(1,1.03)" text-anchor="middle" font-family='"Liberation Sans", sans-serif' font-size="46.7" fill="#4D4D4D">05:00</text>
<text transform="translate(1102.5,1393.8) scale(1,1.03)" text-anchor="middle" font-family='"Liberation Sans", sans-serif' font-size="46.7" fill="#4D4D4D">10:00</text>
<text transform="translate(1556.0,1393.8) scale(1,1.03)" text-anchor="middle" font-family='"Liberation Sans", sans-serif' font-size="46.7" fill="#4D4D4D">15:00</text>
<text transform="translate(2009.5,1393.8) scale(1,1.03)" text-anchor="middle" font-family='"Liberation Sans", sans-serif' font-size="46.7" fill="#4D4D4D">20:00</text>
<text transform="translate(150.2,230.8) scale(1,1.03)" text-anchor="end" font-family='"Liberation Sans", sans-serif' font-size="46.7" fill="#4D4D4D">80</text>
<text transform="translate(150.2,538.2) scale(1,1.03)" text-anchor="end" font-family='"Liberation Sans", sans-serif' font-size="46.7" fill="#4D4D4D">60</text>
<text transform="translate(150.2,845.5) scale(1,1.03)" text-anchor="end" font-family='"Liberation Sans", sans-serif' font-size="46.7" fill="#4D4D4D">40</text>
<text transform="translate(150.2,1152.8) scale(1,1.03)" text-anchor="end" font-family='"Liberation Sans", sans-serif' font-size="46.7" fill="#4D4D4D">20</text>
<text x="1108" y="1459.6" text-anchor="middle" font-family='"Liberation Sans", sans-serif' font-weight="bold" font-size="58.3" fill="#000">time (mm:ss)</text>
<text transform="translate(73.6,728) rotate(-90)" text-anchor="middle" font-family='"Liberation Sans", sans-serif' font-weight="bold" font-size="58.3" fill="#000">signal</text>
<rect x="1380" y="65" width="58" height="8" fill="#0080FF"/>
<rect x="1712" y="65" width="58" height="8" fill="#B8252F"/>
<text x="1474.5" y="87.5" font-family='"Liberation Sans", sans-serif' font-size="46.7" fill="#000">smo2_left</text>
<text x="1806.5" y="87.5" font-family='"Liberation Sans", sans-serif' font-size="46.7" fill="#000">smo2_right</text>
</svg>
</body></html>
